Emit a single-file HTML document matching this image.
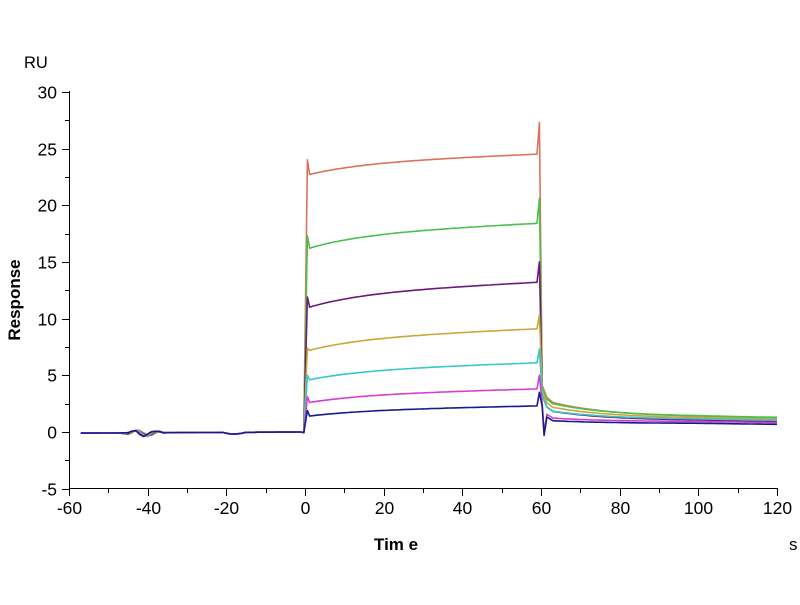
<!DOCTYPE html>
<html><head><meta charset="utf-8"><style>
body{margin:0;background:#fff}
svg text{font-family:"Liberation Sans",Arial,sans-serif}
</style></head><body>
<svg id="s" width="800" height="600" xmlns="http://www.w3.org/2000/svg">
<rect width="800" height="600" fill="#fff"/>
<g id="ax" stroke="#000" stroke-width="1" fill="none"></g>
<g id="lab" font-size="17.5" fill="#000"></g>
<text x="24" y="68" font-size="16.5">RU</text>
<text x="374" y="550" font-size="17" font-weight="bold">Tim e</text>
<text x="789" y="550" font-size="17">s</text>
<text transform="translate(20,300) rotate(-90)" text-anchor="middle" font-size="17" font-weight="bold">Response</text>
<g id="ser" fill="none" stroke-width="1.6" stroke-linejoin="round"></g>
</svg>
<script>
var X=function(t){return 305+t*3.933},Y=function(v){return 432-v*11.34};
var ax=document.getElementById('ax'),lab=document.getElementById('lab'),ns='http://www.w3.org/2000/svg';
function el(p,tag,a,txt){var e=document.createElementNS(ns,tag);for(var k in a)e.setAttribute(k,a[k]);if(txt!=null)e.textContent=txt;p.appendChild(e);return e}
el(ax,'line',{x1:69.5,y1:91,x2:69.5,y2:489});
el(ax,'line',{x1:69,y1:488.5,x2:778,y2:488.5});
for(var v=-5;v<=30;v+=2.5){var y=Math.round(Y(v))+.5,maj=(v%5==0);el(ax,'line',{x1:maj?62:65,y1:y,x2:69,y2:y});if(maj)el(lab,'text',{x:57,y:y+6,'text-anchor':'end'},v)}
for(var t=-60;t<=120;t+=10){var x=Math.round(X(t))+.5,maj=(t%20==0);el(ax,'line',{x1:x,y1:489,x2:x,y2:maj?496:493});if(maj)el(lab,'text',{x:x,y:514,'text-anchor':'middle'},t)}
var S=[
['#d9735f',24,22.7,24.5,27.3,1.3,1.6],
['#4cc04c',17.3,16.2,18.4,20.6,1.35,1.4],
['#6a1a7a',11.9,11.0,13.2,15.0,1.0,1.0],
['#c9a83a',7.4,7.2,9.1,10.3,1.2,1.2],
['#38c8c8',5.0,4.6,6.1,7.3,1.1,0.9],
['#d040d0',3.1,2.6,3.8,5.0,0.9,0.4],
['#1a1a8a',1.9,1.4,2.3,3.5,0.75,0.3]];
var ser=document.getElementById('ser');
S.forEach(function(s,i){
 var pts=[];
 for(var t=-57;t<-0.5;t+=1){var n=0;
  if(t>-47&&t<-35){n=0.3*Math.sin((t+44)*1.05+i*0.25)*Math.exp(-Math.pow((t+41)/4,2))+0.05*Math.sin(t*2+i);}
  if(t>-21&&t<-15)n=-0.15*Math.sin((t+21)/6*Math.PI);
  pts.push([t,n-0.1+0.1*(t+57)/57])}
 pts.push([-0.3,-0.05]);pts.push([0.6,s[1]]);pts.push([1.2,s[2]]);
 for(var t=2;t<=59;t+=1){var f=(t-1)/58;var v=s[2]+(s[3]-s[2])*(0.55*(1-Math.exp(-f*4))/(1-Math.exp(-4))+0.45*f);pts.push([t,v])}
 pts.push([59.6,s[4]]);
 var c=s[5],a=s[6];
 pts.push([60.3,c+a+1.2]);
 if(i>=5)pts.push([60.8,-0.3+i*0.05*(i==6?0:1)]);
 pts.push([61.5,c+a*0.9+0.3]);
 for(var t=63;t<=120;t+=1){pts.push([t,c+a*Math.exp(-(t-60)/15)+(t>100?-(t-100)*0.004:0)])}
 var d=pts.map(function(p,k){return (k?'L':'M')+X(p[0]).toFixed(1)+','+Y(p[1]).toFixed(1)}).join('');
 el(ser,'path',{d:d,stroke:s[0]});
});
</script>
</body></html>
